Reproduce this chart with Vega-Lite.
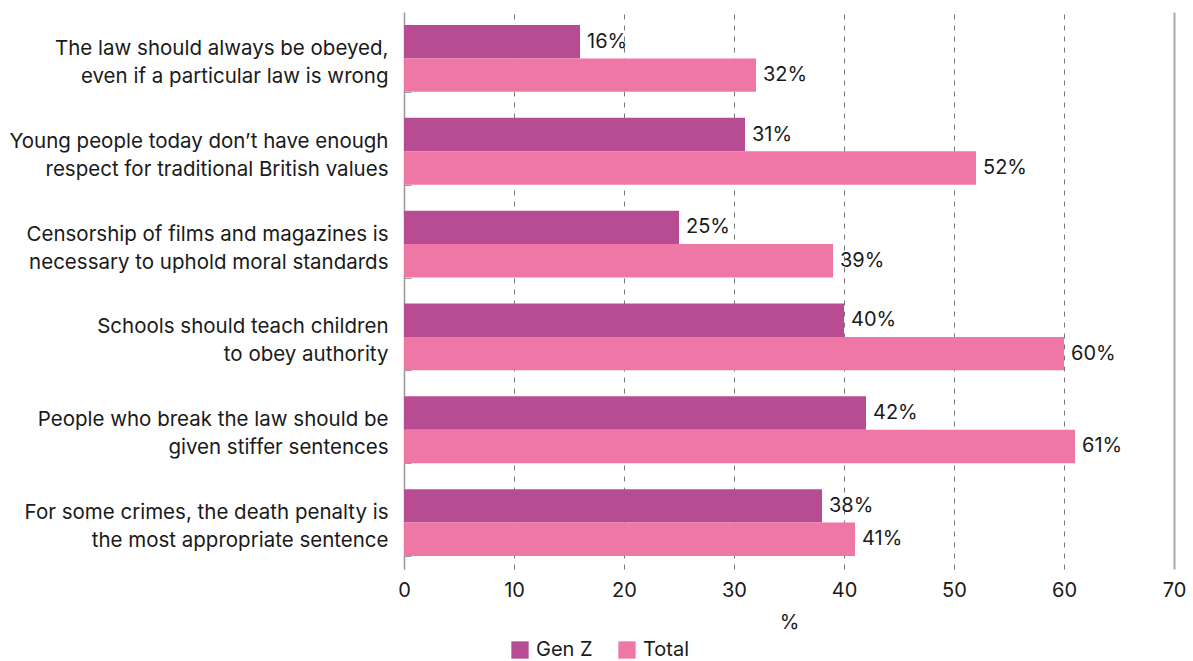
{
  "$schema": "https://vega.github.io/schema/vega-lite/v6.json",
  "autosize": {"type": "none"},
  "width": 770,
  "height": 557,
  "padding": {"left": 404, "top": 12, "right": 19, "bottom": 92},
  "background": "white",
  "config": {
    "font": "Inter",
    "view": {"stroke": null},
    "axis": {"labelFont": "Inter", "titleFont": "Inter", "labelColor": "#1a1a1a", "titleColor": "#1a1a1a", "labelFontSize": 20, "titleFontSize": 20, "titleFontWeight": "normal"},
    "legend": {"labelFont": "Inter", "labelFontSize": 20, "labelColor": "#1a1a1a", "padding": 0}
  },
  "data": {
    "values": [
      {"q": "The law should always be obeyed,|even if a particular law is wrong", "series": "Gen Z", "value": 16},
      {"q": "The law should always be obeyed,|even if a particular law is wrong", "series": "Total", "value": 32},
      {"q": "Young people today don’t have enough|respect for traditional British values", "series": "Gen Z", "value": 31},
      {"q": "Young people today don’t have enough|respect for traditional British values", "series": "Total", "value": 52},
      {"q": "Censorship of films and magazines is|necessary to uphold moral standards", "series": "Gen Z", "value": 25},
      {"q": "Censorship of films and magazines is|necessary to uphold moral standards", "series": "Total", "value": 39},
      {"q": "Schools should teach children|to obey authority", "series": "Gen Z", "value": 40},
      {"q": "Schools should teach children|to obey authority", "series": "Total", "value": 60},
      {"q": "People who break the law should be|given stiffer sentences", "series": "Gen Z", "value": 42},
      {"q": "People who break the law should be|given stiffer sentences", "series": "Total", "value": 61},
      {"q": "For some crimes, the death penalty is|the most appropriate sentence", "series": "Gen Z", "value": 38},
      {"q": "For some crimes, the death penalty is|the most appropriate sentence", "series": "Total", "value": 41}
    ]
  },
  "transform": [{"calculate": "datum.value + '%'", "as": "label"}],
  "encoding": {
    "y": {
      "field": "q", "type": "nominal", "sort": null,
      "scale": {"paddingInner": 0.28, "paddingOuter": 0.14},
      "axis": {
        "title": null,
        "labelExpr": "split(datum.label, '|')",
        "labelFontSize": 20.5,
        "labelLineHeight": 28,
        "labelPadding": 23,
        "labelOffset": -10,
        "tickSize": -7,
        "tickBand": "extent",
        "tickColor": "#999999",
        "domainColor": "#999999",
        "domainWidth": 1.5,
        "grid": false,
        "labelLimit": 500
      }
    },
    "yOffset": {"field": "series", "type": "nominal", "sort": ["Gen Z", "Total"], "scale": {"paddingInner": 0, "paddingOuter": 0}},
    "x": {
      "field": "value", "type": "quantitative",
      "scale": {"domain": [0, 70], "nice": false},
      "axis": {
        "title": "%",
        "titlePadding": 12,
        "values": [0, 10, 20, 30, 40, 50, 60, 70],
        "labelOverlap": false,
        "labelFlush": false,
        "domain": false,
        "ticks": false,
        "labelPadding": 11,
        "grid": true,
        "gridColor": {"condition": {"test": "datum.value === 70", "value": "#aaaaaa"}, "value": "#777777"},
        "gridDash": {"condition": {"test": "datum.value === 70", "value": []}, "value": [5, 6]},
        "gridWidth": {"condition": {"test": "datum.value === 70", "value": 2}, "value": 1}
      }
    }
  },
  "layer": [
    {
      "mark": {"type": "bar"},
      "encoding": {
        "color": {
          "field": "series", "type": "nominal",
          "scale": {"domain": ["Gen Z", "Total"], "range": ["#B74C93", "#EE77A6"]},
          "legend": {"title": null, "orient": "none", "direction": "horizontal", "legendX": 106, "legendY": 628, "symbolType": "square", "symbolSize": 300, "symbolStrokeWidth": 0, "symbolOpacity": 1, "columnPadding": 24, "labelOffset": 6}
        }
      }
    },
    {
      "mark": {"type": "text", "align": "left", "baseline": "middle", "dx": 7, "fontSize": 20, "color": "#1a1a1a"},
      "encoding": {"text": {"field": "label"}}
    }
  ]
}
